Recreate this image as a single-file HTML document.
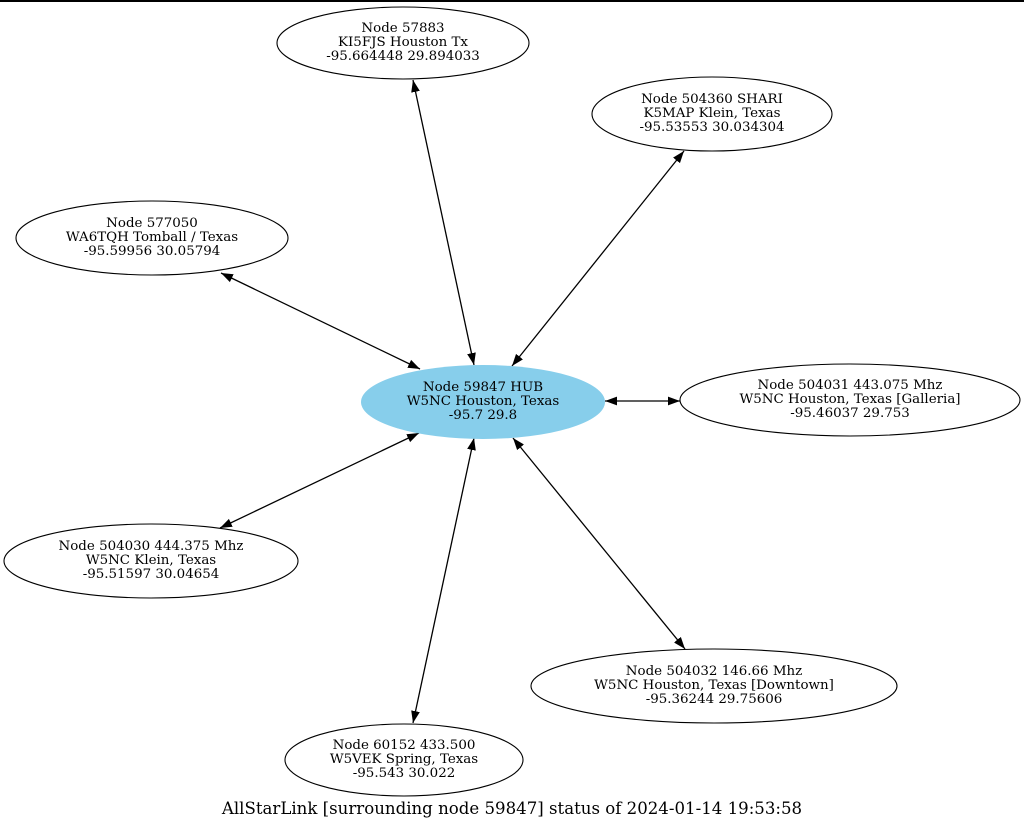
<!DOCTYPE html>
<html><head><meta charset="utf-8"><style>
html,body{margin:0;padding:0;background:#fff;width:1024px;height:828px;overflow:hidden}
svg{display:block}
text{font-family:"DejaVu Serif","Liberation Serif",serif;font-size:13.4px;fill:#000}
</style></head><body>
<svg width="1024" height="828" viewBox="0 0 1024 828">
<defs>
<marker id="a" viewBox="0 0 12 10" refX="12" refY="5" markerWidth="12" markerHeight="10" markerUnits="userSpaceOnUse" orient="auto-start-reverse">
<path d="M0,0.6 L12,5 L0,9.4 Z" fill="#000"/></marker>
</defs>
<rect x="0" y="0" width="1024" height="2" fill="#000"/>
<g stroke="#000" stroke-width="1.3" fill="none">
<line x1="413" y1="80" x2="474" y2="365" marker-start="url(#a)" marker-end="url(#a)"/>
<line x1="684" y1="151" x2="512" y2="366" marker-start="url(#a)" marker-end="url(#a)"/>
<line x1="221" y1="273" x2="420" y2="369" marker-start="url(#a)" marker-end="url(#a)"/>
<line x1="605" y1="401" x2="680" y2="401" marker-start="url(#a)" marker-end="url(#a)"/>
<line x1="220" y1="528" x2="419" y2="433" marker-start="url(#a)" marker-end="url(#a)"/>
<line x1="513" y1="438" x2="685" y2="649" marker-start="url(#a)" marker-end="url(#a)"/>
<line x1="474" y1="438" x2="413" y2="723" marker-start="url(#a)" marker-end="url(#a)"/>
</g>
<ellipse cx="483" cy="402" rx="122" ry="37" fill="#87ceeb"/>
<g fill="none" stroke="#000" stroke-width="1.1">
<ellipse cx="403" cy="43" rx="126" ry="36"/>
<ellipse cx="712" cy="114" rx="120" ry="37"/>
<ellipse cx="152" cy="238" rx="136" ry="37"/>
<ellipse cx="850" cy="400" rx="170" ry="36"/>
<ellipse cx="151" cy="561" rx="147" ry="37"/>
<ellipse cx="714" cy="686" rx="183" ry="37"/>
<ellipse cx="404" cy="760" rx="119" ry="36"/>
</g>
<g text-anchor="middle">
<text x="403" y="32">Node 57883</text><text x="403" y="46">KI5FJS Houston Tx</text><text x="403" y="60">-95.664448 29.894033</text>
<text x="712" y="103">Node 504360 SHARI</text><text x="712" y="117">K5MAP Klein, Texas</text><text x="712" y="131">-95.53553 30.034304</text>
<text x="152" y="227">Node 577050</text><text x="152" y="241">WA6TQH Tomball / Texas</text><text x="152" y="255">-95.59956 30.05794</text>
<text x="483" y="391">Node 59847 HUB</text><text x="483" y="405">W5NC Houston, Texas</text><text x="483" y="419">-95.7 29.8</text>
<text x="850" y="389">Node 504031 443.075 Mhz</text><text x="850" y="403">W5NC Houston, Texas [Galleria]</text><text x="850" y="417">-95.46037 29.753</text>
<text x="151" y="550">Node 504030 444.375 Mhz</text><text x="151" y="564">W5NC Klein, Texas</text><text x="151" y="578">-95.51597 30.04654</text>
<text x="714" y="675">Node 504032 146.66 Mhz</text><text x="714" y="689">W5NC Houston, Texas [Downtown]</text><text x="714" y="703">-95.36244 29.75606</text>
<text x="404" y="749">Node 60152 433.500</text><text x="404" y="763">W5VEK Spring, Texas</text><text x="404" y="777">-95.543 30.022</text>
<text x="512" y="814" style="font-size:16.6px">AllStarLink [surrounding node 59847] status of 2024-01-14 19:53:58</text>
</g>
</svg>
</body></html>
